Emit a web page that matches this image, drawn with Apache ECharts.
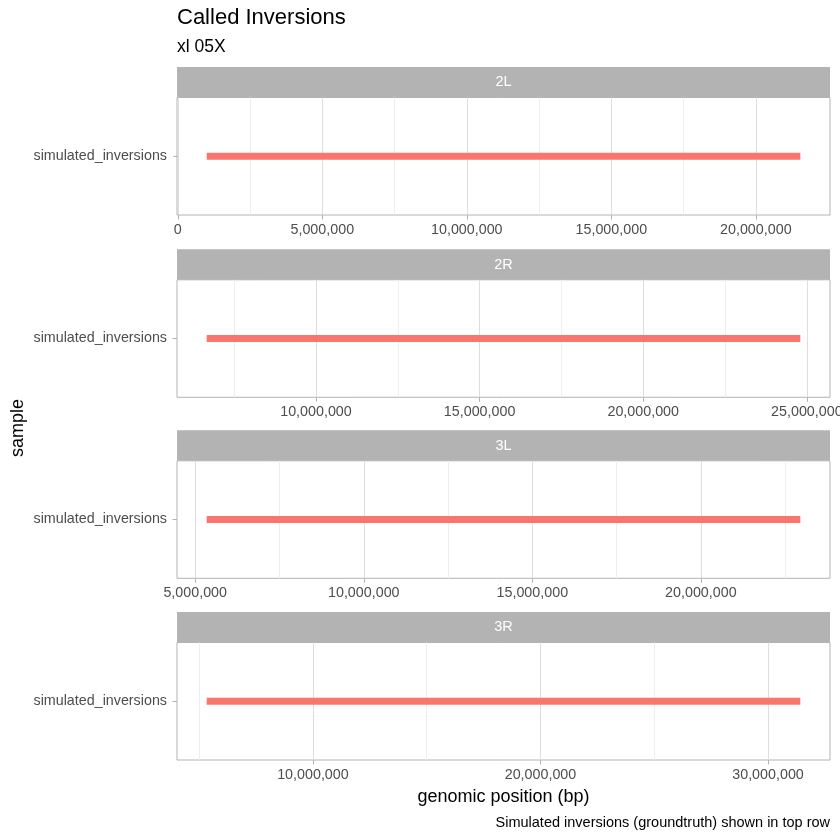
<!DOCTYPE html>
<html>
<head>
<meta charset="utf-8">
<script src="https://cdn.jsdelivr.net/npm/echarts@6/dist/echarts.min.js"></script>
<style>html,body{margin:0;padding:0;background:#fff}#c{width:840px;height:840px}</style>
</head>
<body>
<div id="c"></div>
<script>
// ---- data ----
const chromosomes = ['2L', '2R', '3L', '3R'];
const samples = ['simulated_inversions'];
const invStart = [1000000, 6660000, 5340000, 5330000];
const invEnd = [21540000, 24800000, 22950000, 31420000];
const majorTicks = [
  [0, 5000000, 10000000, 15000000, 20000000],
  [10000000, 15000000, 20000000, 25000000],
  [5000000, 10000000, 15000000, 20000000],
  [10000000, 20000000, 30000000]
];
const minorTicks = [
  [2500000, 7500000, 12500000, 17500000],
  [7500000, 12500000, 17500000, 22500000],
  [7500000, 12500000, 17500000, 22500000],
  [5000000, 15000000, 25000000]
];
const titleText = 'Called Inversions';
const subtitleText = 'xl 05X';
const xTitle = 'genomic position (bp)';
const yTitle = 'sample';
const captionText = 'Simulated inversions (groundtruth) shown in top row';

// ---- layout ----
const FONT = '"Liberation Sans", Arial, sans-serif';
const panelLeft = 177, panelRight = 830;
const panelW = panelRight - panelLeft;
const panelTops = [97.5, 279.8, 460.8, 642.5];
const panelH = 117.5;
const stripH = 30.5;

const chart = echarts.init(document.getElementById('c'), null, {renderer: 'canvas'});

const grids = [], xAxes = [], yAxes = [], series = [], graphics = [];
const fmt = v => Number(v).toLocaleString('en-US');

chromosomes.forEach((chr, i) => {
  const range = invEnd[i] - invStart[i];
  const lo = invStart[i] - 0.05 * range;
  const hi = invEnd[i] + 0.05 * range;
  grids.push({
    left: panelLeft, width: panelW, top: panelTops[i], height: panelH,
    show: true, borderColor: '#B3B3B3', borderWidth: 1, backgroundColor: '#fff',
    containLabel: false, outerBoundsMode: 'none'
  });
  // major axis
  xAxes.push({
    type: 'value', gridIndex: i, min: lo, max: hi,
    axisLine: {show: false},
    axisTick: {show: true, length: 4.5, lineStyle: {color: '#B3B3B3', width: 1}, customValues: majorTicks[i]},
    axisLabel: {show: true, customValues: majorTicks[i], formatter: fmt, color: '#4D4D4D',
      fontSize: 14.3, fontFamily: FONT, margin: 8, hideOverlap: false},
    splitLine: {show: true, lineStyle: {color: '#DEDEDE', width: 1}},
    z: 2
  });
  // minor axis (gridlines only)
  xAxes.push({
    type: 'value', gridIndex: i, min: lo, max: hi, position: 'bottom',
    axisLine: {show: false},
    axisTick: {show: false, customValues: minorTicks[i]},
    axisLabel: {show: false, customValues: minorTicks[i]},
    splitLine: {show: true, lineStyle: {color: '#EEEEEE', width: 1}},
    z: 1
  });
  yAxes.push({
    type: 'category', gridIndex: i, data: samples, boundaryGap: true,
    axisLine: {show: false},
    axisTick: {show: true, alignWithLabel: true, length: 4.5, lineStyle: {color: '#B3B3B3'}},
    axisLabel: {color: '#4D4D4D', fontSize: 14.3, fontFamily: FONT, margin: 10},
    splitLine: {show: false}
  });
  series.push({
    type: 'line', xAxisIndex: i * 2, yAxisIndex: i,
    data: [[invStart[i], samples[0]], [invEnd[i], samples[0]]],
    symbol: 'none', silent: true,
    lineStyle: {color: '#F8766D', width: 7, cap: 'butt'},
    z: 5
  });
  // strip
  graphics.push({
    type: 'rect', shape: {x: panelLeft, y: panelTops[i] - stripH, width: panelW, height: stripH},
    style: {fill: '#B3B3B3'}, silent: true
  });
  graphics.push({
    type: 'text', x: panelLeft + panelW / 2, y: panelTops[i] - stripH / 2,
    style: {text: chr, fill: '#FFFFFF', font: '14.5px ' + FONT, align: 'center', verticalAlign: 'middle'},
    silent: true
  });
});

graphics.push({
  type: 'text', x: panelLeft, y: 17.6,
  style: {text: titleText, fill: '#000', font: '22px ' + FONT, align: 'left', verticalAlign: 'middle'}
});
graphics.push({
  type: 'text', x: panelLeft, y: 47.2,
  style: {text: subtitleText, fill: '#000', font: '17.5px ' + FONT, align: 'left', verticalAlign: 'middle'}
});
graphics.push({
  type: 'text', x: (panelLeft + panelRight) / 2, y: 796.9,
  style: {text: xTitle, fill: '#000', font: '18px ' + FONT, align: 'center', verticalAlign: 'middle'}
});
graphics.push({
  type: 'text', x: 18.5, y: 428, rotation: Math.PI / 2,
  style: {text: yTitle, fill: '#000', font: '18px ' + FONT, align: 'center', verticalAlign: 'middle'}
});
graphics.push({
  type: 'text', x: panelRight, y: 822.6,
  style: {text: captionText, fill: '#000', font: '14.5px ' + FONT, align: 'right', verticalAlign: 'middle'}
});

chart.setOption({
  animation: false,
  backgroundColor: '#fff',
  grid: grids,
  xAxis: xAxes,
  yAxis: yAxes,
  series: series,
  graphic: graphics
});
</script>
</body>
</html>
